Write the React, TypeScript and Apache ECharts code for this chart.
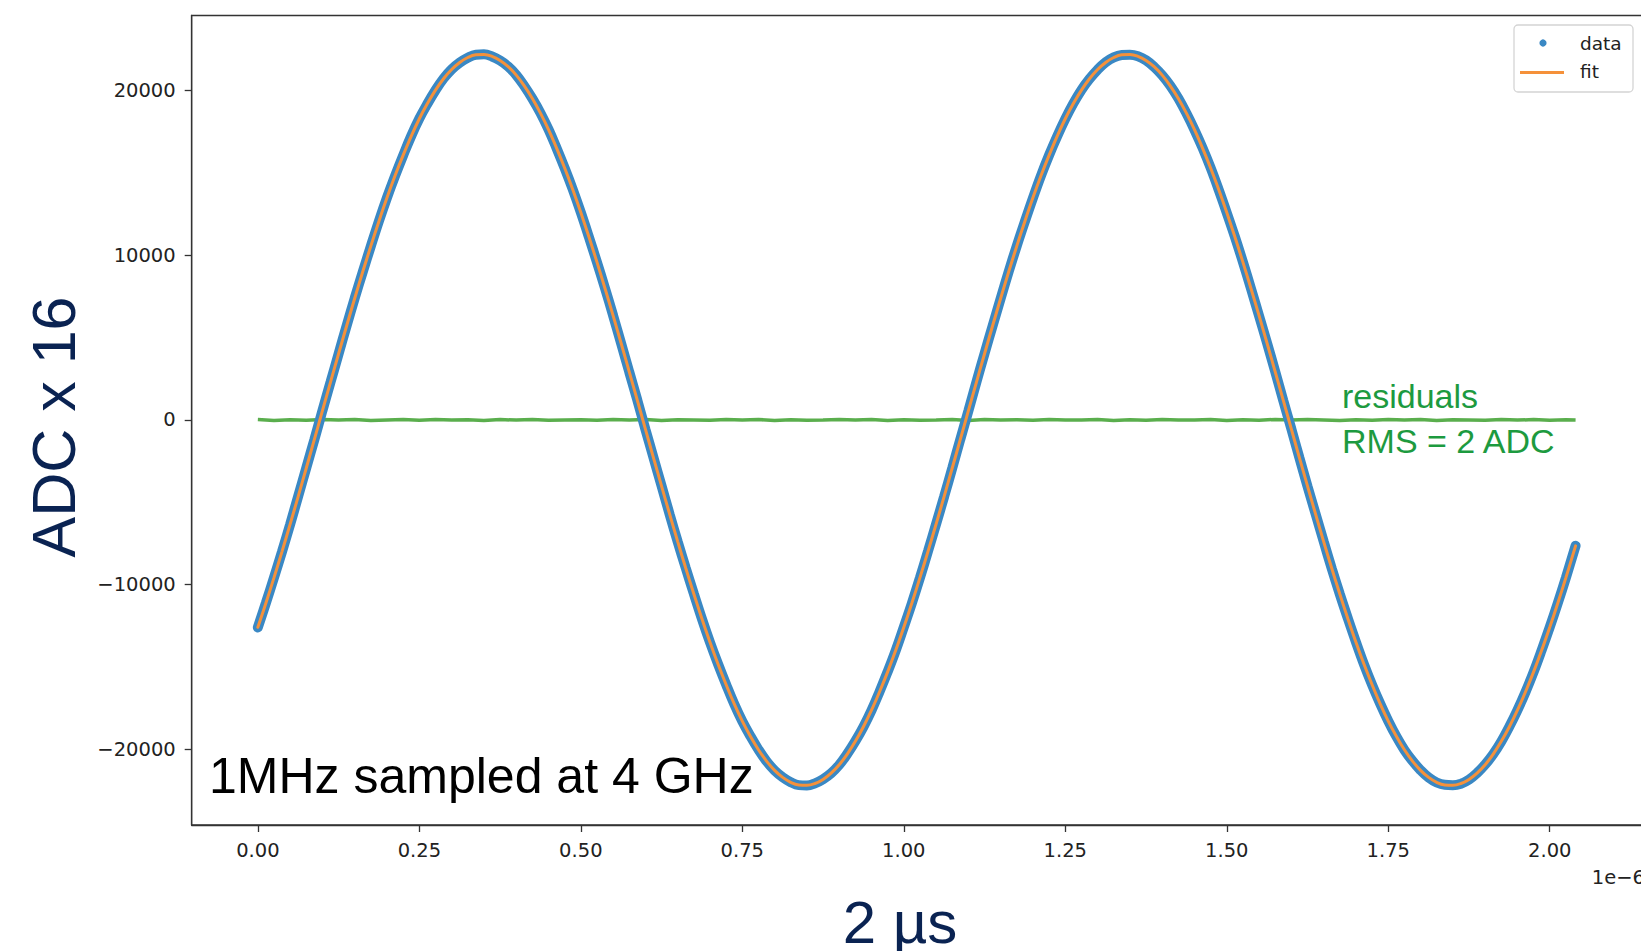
import React, { useEffect, useRef } from "react";
import * as echarts from "echarts";

// sample times in microseconds (sine data and fit)
const times = [
  0, 0.0125, 0.025, 0.0375, 0.05, 0.0625, 0.075, 0.0875, 0.1, 0.1125, 0.125, 0.1375, 0.15, 0.1625, 0.175, 0.1875, 0.2, 0.2125, 0.225, 0.2375,
  0.25, 0.2625, 0.275, 0.2875, 0.3, 0.3125, 0.325, 0.3375, 0.35, 0.3625, 0.375, 0.3875, 0.4, 0.4125, 0.425, 0.4375, 0.45, 0.4625, 0.475, 0.4875,
  0.5, 0.5125, 0.525, 0.5375, 0.55, 0.5625, 0.575, 0.5875, 0.6, 0.6125, 0.625, 0.6375, 0.65, 0.6625, 0.675, 0.6875, 0.7, 0.7125, 0.725, 0.7375,
  0.75, 0.7625, 0.775, 0.7875, 0.8, 0.8125, 0.825, 0.8375, 0.85, 0.8625, 0.875, 0.8875, 0.9, 0.9125, 0.925, 0.9375, 0.95, 0.9625, 0.975, 0.9875,
  1.0, 1.0125, 1.025, 1.0375, 1.05, 1.0625, 1.075, 1.0875, 1.1, 1.1125, 1.125, 1.1375, 1.15, 1.1625, 1.175, 1.1875, 1.2, 1.2125, 1.225, 1.2375,
  1.25, 1.2625, 1.275, 1.2875, 1.3, 1.3125, 1.325, 1.3375, 1.35, 1.3625, 1.375, 1.3875, 1.4, 1.4125, 1.425, 1.4375, 1.45, 1.4625, 1.475, 1.4875,
  1.5, 1.5125, 1.525, 1.5375, 1.55, 1.5625, 1.575, 1.5875, 1.6, 1.6125, 1.625, 1.6375, 1.65, 1.6625, 1.675, 1.6875, 1.7, 1.7125, 1.725, 1.7375,
  1.75, 1.7625, 1.775, 1.7875, 1.8, 1.8125, 1.825, 1.8375, 1.85, 1.8625, 1.875, 1.8875, 1.9, 1.9125, 1.925, 1.9375, 1.95, 1.9625, 1.975, 1.9875,
  2.0, 2.0125, 2.025, 2.04,
];

// ADC x 16 samples (measured)
const dataValues = [
  -12600, -11110, -9570, -7990, -6340, -4630, -2910, -1195, 570, 2290, 4010, 5730, 7400, 9000, 10560, 12080, 13510, 14830, 16070, 17250,
  18300, 19200, 20020, 20730, 21290, 21700, 22000, 22180, 22200, 22070, 21820, 21460, 20950, 20280, 19510, 18640, 17640, 16500, 15290, 14000,
  12600, 11110, 9570, 7990, 6340, 4630, 2910, 1195, -570, -2290, -4010, -5730, -7400, -9000, -10560, -12080, -13510, -14830, -16070, -17250,
  -18300, -19200, -20020, -20730, -21290, -21700, -22000, -22180, -22200, -22070, -21820, -21460, -20950, -20280, -19510, -18640, -17640, -16500, -15290, -14000,
  -12580, -11130, -9590, -7970, -6320, -4650, -2930, -1175, 550, 2310, 4030, 5710, 7380, 9020, 10580, 12060, 13490, 14850, 16090, 17230,
  18280, 19220, 20040, 20710, 21270, 21720, 22020, 22160, 22180, 22090, 21840, 21440, 20930, 20300, 19530, 18620, 17620, 16520, 15310, 13980,
  12580, 11130, 9590, 7970, 6320, 4650, 2930, 1175, -550, -2310, -4030, -5710, -7380, -9020, -10580, -12060, -13490, -14850, -16090, -17230,
  -18280, -19220, -20040, -20710, -21270, -21720, -22020, -22160, -22180, -22090, -21840, -21440, -20930, -20300, -19530, -18620, -17620, -16520, -15310, -13980,
  -12590, -11120, -9580, -7640,
];

// fitted sine
const fitValues = [
  -12590, -11120, -9580, -7980, -6330, -4640, -2920, -1185, 560, 2300, 4020, 5720, 7390, 9010, 10570, 12070, 13500, 14840, 16080, 17240,
  18290, 19210, 20030, 20720, 21280, 21710, 22010, 22170, 22190, 22080, 21830, 21450, 20940, 20290, 19520, 18630, 17630, 16510, 15300, 13990,
  12590, 11120, 9580, 7980, 6330, 4640, 2920, 1185, -560, -2300, -4020, -5720, -7390, -9010, -10570, -12070, -13500, -14840, -16080, -17240,
  -18290, -19210, -20030, -20720, -21280, -21710, -22010, -22170, -22190, -22080, -21830, -21450, -20940, -20290, -19520, -18630, -17630, -16510, -15300, -13990,
  -12590, -11120, -9580, -7980, -6330, -4640, -2920, -1185, 560, 2300, 4020, 5720, 7390, 9010, 10570, 12070, 13500, 14840, 16080, 17240,
  18290, 19210, 20030, 20720, 21280, 21710, 22010, 22170, 22190, 22080, 21830, 21450, 20940, 20290, 19520, 18630, 17630, 16510, 15300, 13990,
  12590, 11120, 9580, 7980, 6330, 4640, 2920, 1185, -560, -2300, -4020, -5720, -7390, -9010, -10570, -12070, -13500, -14840, -16080, -17240,
  -18290, -19210, -20030, -20720, -21280, -21710, -22010, -22170, -22190, -22080, -21830, -21450, -20940, -20290, -19520, -18630, -17630, -16510, -15300, -13990,
  -12590, -11120, -9580, -7650,
];

// residual sample times and values
const residualTimes = [
  0, 0.025, 0.05, 0.075, 0.1, 0.125, 0.15, 0.175, 0.2, 0.225, 0.25, 0.275, 0.3, 0.325, 0.35, 0.375, 0.4, 0.425, 0.45, 0.475,
  0.5, 0.525, 0.55, 0.575, 0.6, 0.625, 0.65, 0.675, 0.7, 0.725, 0.75, 0.775, 0.8, 0.825, 0.85, 0.875, 0.9, 0.925, 0.95, 0.975,
  1.0, 1.025, 1.05, 1.075, 1.1, 1.125, 1.15, 1.175, 1.2, 1.225, 1.25, 1.275, 1.3, 1.325, 1.35, 1.375, 1.4, 1.425, 1.45, 1.475,
  1.5, 1.525, 1.55, 1.575, 1.6, 1.625, 1.65, 1.675, 1.7, 1.725, 1.75, 1.775, 1.8, 1.825, 1.85, 1.875, 1.9, 1.925, 1.95, 1.975,
  2.0, 2.025, 2.04,
];
const residualValues = [
  20, -30, 10, -20, 30, -10, 20, -30, 0, 20, -20, 30, -10, 10, -30, 20, -10, 30, -20, 0,
  10, -20, 30, -10, 20, -30, 10, 0, -20, 30, -10, 20, -30, 10, -20, 0, 30, -10, 20, -30,
  10, -20, 0, 30, -30, 20, -10, 10, -20, 30, 0, -10, 20, -30, 10, -20, 30, -10, 0, 20,
  -30, 10, -20, 30, -10, 20, 0, -30, 10, -20, 30, -10, 20, -30, 10, 0, -20, 30, -10, 20,
  -20, 10, 0,
];

const xTicks = [0, 0.25, 0.5, 0.75, 1.0, 1.25, 1.5, 1.75, 2.0];
const yTicks = [-20000, -10000, 0, 10000, 20000];

const BLUE = "#3a88c4";
const ORANGE = "#f5913a";
const GREEN = "#5aae4d";
const NAVY = "#0a2352";
const TICK_FONT = "DejaVu Sans";
const TEXT_FONT = "Liberation Sans";

export default function App() {
  const ref = useRef<HTMLDivElement>(null);

  useEffect(() => {
    if (!ref.current) return;
    const chart = echarts.init(ref.current, null, { renderer: "svg" });

    const axisCommon = {
      splitLine: { show: false },
      axisLine: { show: true, onZero: false, lineStyle: { color: "#333", width: 1.3 } },
    };

    chart.setOption({
      animation: false,
      backgroundColor: "#ffffff",
      grid: {
        left: 191.7,
        top: 15.5,
        right: 13.1,
        bottom: 126,
        show: true,
        borderColor: "#333",
        borderWidth: 1.3,
        backgroundColor: "transparent",
      },
      xAxis: {
        type: "value",
        min: -0.1024,
        max: 2.1504,
        ...axisCommon,
        axisTick: {
          show: true,
          length: 7,
          lineStyle: { color: "#333", width: 1.3 },
          customValues: xTicks,
        },
        axisLabel: {
          customValues: xTicks,
          formatter: (v: number) => v.toFixed(2),
          fontFamily: TICK_FONT,
          fontSize: 19.5,
          color: "#222",
          margin: 15,
        },
      },
      yAxis: {
        type: "value",
        min: -24600,
        max: 24560,
        ...axisCommon,
        axisTick: {
          show: true,
          length: 7,
          lineStyle: { color: "#333", width: 1.3 },
          customValues: yTicks,
        },
        axisLabel: {
          customValues: yTicks,
          formatter: (v: number) => (v < 0 ? "\u2212" + Math.abs(v) : String(v)),
          fontFamily: TICK_FONT,
          fontSize: 19.5,
          color: "#222",
          margin: 16,
          padding: [3, 0, 0, 0],
        },
      },
      series: [
        {
          name: "residuals",
          type: "line",
          data: residualTimes.map((t, i) => [t, residualValues[i]]),
          showSymbol: false,
          symbol: "none",
          lineStyle: { color: GREEN, width: 3.5 },
          z: 2,
        },
        {
          name: "data",
          type: "line",
          data: times.map((t, i) => [t, dataValues[i]]),
          smooth: 0.4,
          showSymbol: false,
          symbol: "none",
          lineStyle: { color: BLUE, width: 10, cap: "round" },
          z: 3,
        },
        {
          name: "fit",
          type: "line",
          data: times.map((t, i) => [t, fitValues[i]]),
          smooth: 0.4,
          showSymbol: false,
          symbol: "none",
          lineStyle: { color: ORANGE, width: 3, cap: "round" },
          z: 4,
        },
      ],
      graphic: [
        {
          type: "rect",
          shape: { x: 1514, y: 25, width: 119, height: 67, r: 4 },
          style: { fill: "rgba(255,255,255,0.85)", stroke: "#d4d4d4", lineWidth: 1.3 },
          z: 10,
        },
        {
          type: "circle",
          shape: { cx: 1543, cy: 43, r: 3.6 },
          style: { fill: BLUE },
          z: 11,
        },
        {
          type: "line",
          shape: { x1: 1520, y1: 72.5, x2: 1564, y2: 72.5 },
          style: { stroke: ORANGE, lineWidth: 3 },
          z: 11,
        },
        {
          type: "text",
          x: 1580,
          y: 43,
          style: { text: "data", fontFamily: TICK_FONT, fontSize: 18.5, fill: "#222", align: "left", verticalAlign: "middle" },
          z: 11,
        },
        {
          type: "text",
          x: 1580,
          y: 71,
          style: { text: "fit", fontFamily: TICK_FONT, fontSize: 18.5, fill: "#222", align: "left", verticalAlign: "middle" },
          z: 11,
        },
        {
          type: "text",
          x: 1645,
          y: 877,
          style: { text: "1e\u22126", fontFamily: TICK_FONT, fontSize: 19.5, fill: "#222", align: "right", verticalAlign: "middle" },
          z: 11,
        },
        {
          type: "text",
          x: 1342,
          y: 396,
          style: { text: "residuals", fontFamily: TEXT_FONT, fontSize: 34, fill: "#1d9a3f", align: "left", verticalAlign: "middle" },
          z: 11,
        },
        {
          type: "text",
          x: 1342,
          y: 441,
          style: { text: "RMS = 2 ADC", fontFamily: TEXT_FONT, fontSize: 34, fill: "#1d9a3f", align: "left", verticalAlign: "middle" },
          z: 11,
        },
        {
          type: "text",
          x: 209,
          y: 776,
          style: { text: "1MHz sampled at 4 GHz", fontFamily: TEXT_FONT, fontSize: 50, fill: "#000", align: "left", verticalAlign: "middle" },
          z: 11,
        },
        {
          type: "text",
          x: 54,
          y: 427,
          rotation: Math.PI / 2,
          style: { text: "ADC x 16", fontFamily: TEXT_FONT, fontSize: 61, fill: NAVY, align: "center", verticalAlign: "middle" },
          z: 11,
        },
        {
          type: "text",
          x: 900,
          y: 922,
          style: { text: "2 \u00b5s", fontFamily: TEXT_FONT, fontSize: 60, fill: NAVY, align: "center", verticalAlign: "middle" },
          z: 11,
        },
      ],
    });

    return () => {
      chart.dispose();
    };
  }, []);

  return (
    <div
      style={{
        position: "fixed",
        left: 0,
        top: 0,
        width: 1641,
        height: 951,
        overflow: "hidden",
        background: "#fff",
      }}
    >
      <div ref={ref} style={{ width: 1660, height: 951 }} />
    </div>
  );
}
